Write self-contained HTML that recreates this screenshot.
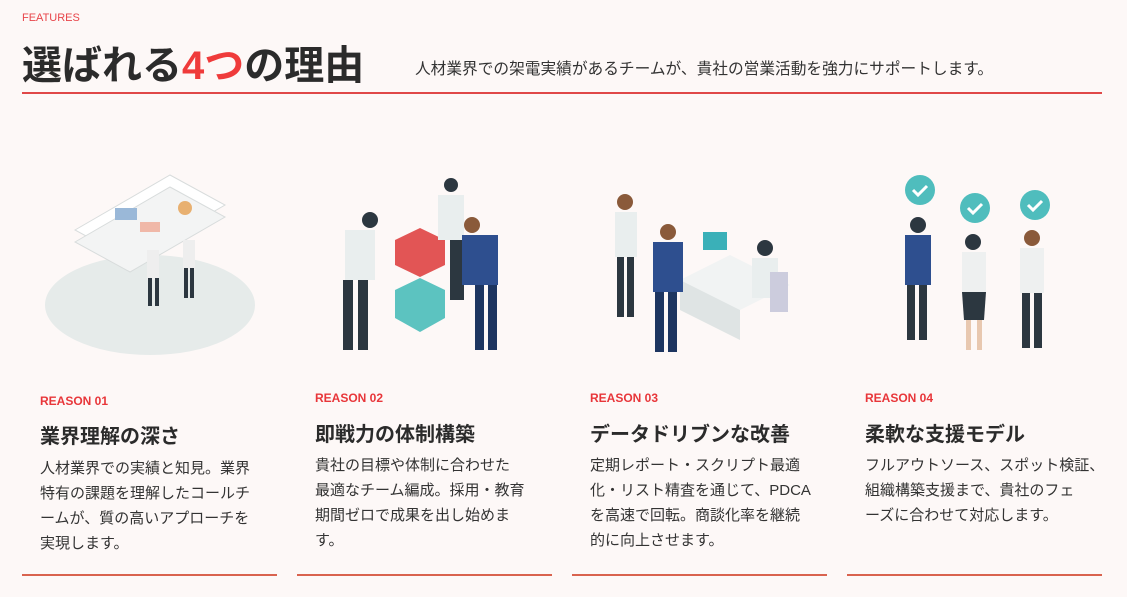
<!DOCTYPE html>
<html><head><meta charset="utf-8"><style>
*{margin:0;padding:0;box-sizing:border-box}
body{width:1127px;height:597px;background:#fdf8f7;font-family:"Liberation Sans","Noto Sans CJK JP",sans-serif;color:#333;position:relative;overflow:hidden}
.abs{position:absolute}
.feat{left:22px;top:12px;font-size:11px;color:#e8454a}
.h1{left:22px;top:40px;font-size:40px;font-weight:700;color:#2b2b2b;line-height:52px}
.h1 span{color:#ef3b3b}
.sub{left:415px;top:56px;font-size:15.7px;color:#333;white-space:nowrap}
.hr{left:22px;top:92px;width:1080px;height:2px;background:#e04848}
.card{position:absolute;top:380px;width:255px;height:196px;border-bottom:2px solid #d9634f}
.r{position:absolute;left:18px;top:14px;font-size:12px;font-weight:700;color:#e8363a}
.t{position:absolute;left:18px;top:40px;font-size:20px;font-weight:700;color:#2b2b2b}
.b{position:absolute;left:18px;top:76px;width:240px;font-size:15px;line-height:25px;color:#333;white-space:nowrap}
</style></head><body>
<div class="abs feat">FEATURES</div>
<div class="abs h1">選ばれる<span>4つ</span>の理由</div>
<div class="abs sub">人材業界での架電実績があるチームが、貴社の営業活動を強力にサポートします。</div>
<div class="abs hr"></div>

<svg class="abs" style="left:0;top:160px" width="1127" height="210">
 <ellipse cx="150" cy="145" rx="105" ry="50" fill="#e6ebea"/>
 <polygon points="75,70 170,15 225,45 130,100" fill="#fff" stroke="#d8dcdc"/>
 <polygon points="75,82 170,27 225,57 130,112" fill="#f3f4f4" stroke="#d8dcdc"/>
 <rect x="115" y="48" width="22" height="12" fill="#9ab8d8"/><rect x="140" y="62" width="20" height="10" fill="#f0b8a8"/>
 <circle cx="185" cy="48" r="7" fill="#e8b070"/>
 <rect x="147" y="90" width="12" height="30" fill="#eee"/><rect x="148" y="118" width="4" height="28" fill="#2c3740"/><rect x="155" y="118" width="4" height="28" fill="#2c3740"/>
 <rect x="183" y="80" width="12" height="30" fill="#eee"/><rect x="184" y="108" width="4" height="30" fill="#2c3740"/><rect x="190" y="108" width="4" height="30" fill="#2c3740"/>
 <polygon points="395,80 420,68 445,80 445,105 420,117 395,105" fill="#e25555"/>
 <polygon points="395,130 420,118 445,130 445,158 420,172 395,158" fill="#5cc3c0"/>
 <circle cx="370" cy="60" r="8" fill="#2c3740"/><rect x="345" y="70" width="30" height="50" fill="#e9eeee"/><rect x="343" y="120" width="10" height="70" fill="#2c3740"/><rect x="358" y="120" width="10" height="70" fill="#2c3740"/>
 <circle cx="451" cy="25" r="7" fill="#2c3740"/><rect x="438" y="35" width="26" height="45" fill="#e9eeee"/><rect x="450" y="80" width="14" height="60" fill="#2c3740"/>
 <circle cx="472" cy="65" r="8" fill="#8a5a3a"/><rect x="462" y="75" width="36" height="50" fill="#2e4f8f"/><rect x="475" y="125" width="9" height="65" fill="#1d3560"/><rect x="488" y="125" width="9" height="65" fill="#1d3560"/>
 <polygon points="680,120 730,95 790,125 740,150" fill="#f1f3f3"/><polygon points="680,120 740,150 740,180 680,150" fill="#dfe4e4"/>
 <rect x="703" y="72" width="24" height="18" fill="#3ab0b8"/>
 <circle cx="625" cy="42" r="8" fill="#8a5a3a"/><rect x="615" y="52" width="22" height="45" fill="#e9eeee"/><rect x="617" y="97" width="7" height="60" fill="#2c3740"/><rect x="627" y="97" width="7" height="60" fill="#2c3740"/>
 <circle cx="668" cy="72" r="8" fill="#8a5a3a"/><rect x="653" y="82" width="30" height="50" fill="#2e4f8f"/><rect x="655" y="132" width="9" height="60" fill="#1d3560"/><rect x="668" y="132" width="9" height="60" fill="#1d3560"/>
 <circle cx="765" cy="88" r="8" fill="#2c3740"/><rect x="752" y="98" width="26" height="40" fill="#e9eeee"/><rect x="770" y="112" width="18" height="40" fill="#ccd"/>
 <g fill="#4fbdbd"><circle cx="920" cy="30" r="15"/><circle cx="975" cy="48" r="15"/><circle cx="1035" cy="45" r="15"/></g>
 <g stroke="#fff" stroke-width="3" fill="none"><path d="M913,30 l5,5 l9,-9"/><path d="M968,48 l5,5 l9,-9"/><path d="M1028,45 l5,5 l9,-9"/></g>
 <circle cx="918" cy="65" r="8" fill="#2c3740"/><rect x="905" y="75" width="26" height="50" fill="#2e4f8f"/><rect x="907" y="125" width="8" height="55" fill="#2c3740"/><rect x="919" y="125" width="8" height="55" fill="#2c3740"/>
 <circle cx="973" cy="82" r="8" fill="#2c3740"/><rect x="962" y="92" width="24" height="40" fill="#eef0f0"/><polygon points="962,132 986,132 984,160 964,160" fill="#2c3740"/><rect x="966" y="160" width="5" height="30" fill="#e8c8b0"/><rect x="977" y="160" width="5" height="30" fill="#e8c8b0"/>
 <circle cx="1032" cy="78" r="8" fill="#8a5a3a"/><rect x="1020" y="88" width="24" height="45" fill="#eef0f0"/><rect x="1022" y="133" width="8" height="55" fill="#2c3740"/><rect x="1034" y="133" width="8" height="55" fill="#2c3740"/>
</svg>

<div class="card" style="left:22px"><div class="r">REASON 01</div><div class="t">業界理解の深さ</div><div class="b">人材業界での実績と知見。業界<br>特有の課題を理解したコールチ<br>ームが、質の高いアプローチを<br>実現します。</div></div>
<div class="card" style="left:297px"><div class="r" style="top:11px">REASON 02</div><div class="t" style="top:38px">即戦力の体制構築</div><div class="b" style="top:73px">貴社の目標や体制に合わせた<br>最適なチーム編成。採用・教育<br>期間ゼロで成果を出し始めま<br>す。</div></div>
<div class="card" style="left:572px"><div class="r" style="top:11px">REASON 03</div><div class="t" style="top:38px">データドリブンな改善</div><div class="b" style="top:73px">定期レポート・スクリプト最適<br>化・リスト精査を通じて、PDCA<br>を高速で回転。商談化率を継続<br>的に向上させます。</div></div>
<div class="card" style="left:847px"><div class="r" style="top:11px">REASON 04</div><div class="t" style="top:38px">柔軟な支援モデル</div><div class="b" style="top:73px">フルアウトソース、スポット検証、<br>組織構築支援まで、貴社のフェ<br>ーズに合わせて対応します。</div></div>
</body></html>
